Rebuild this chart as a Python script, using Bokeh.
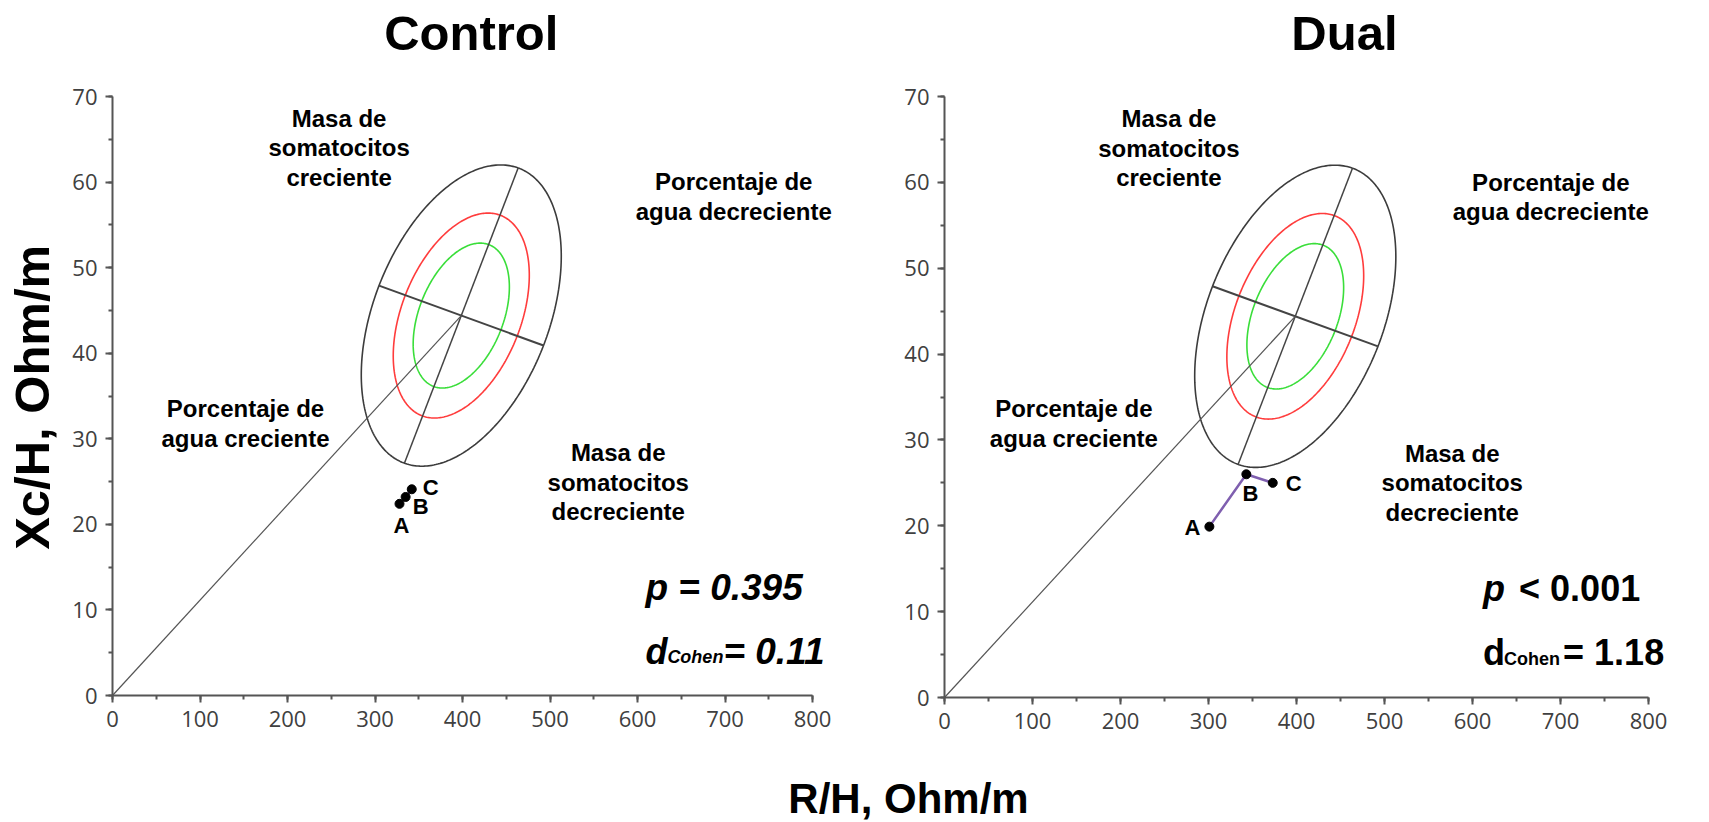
import numpy as np
from bokeh.plotting import figure
from bokeh.models import Range1d, SingleIntervalTicker, Label
from bokeh.layouts import column, row
from bokeh.embed import file_html
from bokeh.resources import INLINE
from bokeh.core.properties import value

# ---------------- data ----------------
point_labels = ["A", "B", "C"]
control_R = [328, 335, 342]
control_Xc = [22.4, 23.2, 24.1]
dual_R = [301, 343, 373]
dual_Xc = [19.9, 26.0, 25.0]

# reference tolerance ellipse (95%) : centre and two conjugate semi-axis vectors
ref_center = [398.6, 44.4]
ref_axis_major = [65.0, 17.25]
ref_axis_minor = [94.0, -3.5]
tolerance_levels = [0.95, 0.75, 0.50]
tolerance_colors = ["#3c3c3c", "#ff3c3c", "#3ade3a"]

region_texts = ["Masa de\nsomatocitos\ncreciente",
                "Porcentaje de\nagua decreciente",
                "Porcentaje de\nagua creciente",
                "Masa de\nsomatocitos\ndecreciente"]
control_region_x = [259, 710, 152, 578]
control_region_y = [64.0, 58.3, 31.8, 24.9]
dual_region_x = [255, 689, 147, 577]
dual_region_y = [64.0, 58.3, 31.9, 25.0]

x_axis_max = 800
y_axis_max = 70
tick_step_x = 100
tick_step_y = 10

x_title = "R/H, Ohm/m"
y_title = "Xc/H, Ohm/m"

FONT = "Liberation Sans"
TICKFONT = "Open Sans"


def ellipse_points(level):
    k = np.sqrt(-2 * np.log(1 - level)) / np.sqrt(-2 * np.log(0.05))
    t = np.linspace(0, 2 * np.pi, 300)
    x = ref_center[0] + k * (np.cos(t) * ref_axis_major[0] + np.sin(t) * ref_axis_minor[0])
    y = ref_center[1] + k * (np.cos(t) * ref_axis_major[1] + np.sin(t) * ref_axis_minor[1])
    return x, y


def make_panel(title, title_x, R, Xc, label_offsets, region_x, region_y,
               fw, fh, x_end, y_end, bl, br, bb, stats):
    p = figure(frame_width=fw, frame_height=fh, min_border_left=bl, min_border_right=br,
               min_border_top=0, min_border_bottom=bb,
               x_range=Range1d(0, x_end), y_range=Range1d(0, y_end),
               output_backend="svg", toolbar_location=None, tools="")
    p.outline_line_color = None
    p.grid.visible = False
    p.background_fill_color = "white"
    p.border_fill_color = "white"

    p.xaxis.ticker = SingleIntervalTicker(interval=tick_step_x, num_minor_ticks=2)
    p.yaxis.ticker = SingleIntervalTicker(interval=tick_step_y, num_minor_ticks=2)
    p.xaxis.bounds = (0, x_axis_max)
    p.yaxis.bounds = (0, y_axis_max)
    for ax in (p.xaxis, p.yaxis):
        ax.axis_line_color = "#555555"
        ax.axis_line_width = 2
        ax.major_tick_line_color = "#555555"
        ax.minor_tick_line_color = "#555555"
        ax.major_tick_line_width = 2
        ax.minor_tick_line_width = 2
        ax.major_tick_in = 0
        ax.major_tick_out = 7
        ax.minor_tick_in = 0
        ax.minor_tick_out = 4
        ax.major_label_text_font = TICKFONT
        ax.major_label_text_font_size = "22px"
        ax.major_label_text_color = "#404040"
    p.xaxis.major_label_standoff = 8
    p.yaxis.major_label_standoff = 8

    # ellipses
    for lev, col in zip(tolerance_levels, tolerance_colors):
        ex, ey = ellipse_points(lev)
        p.line(ex, ey, line_color=col, line_width=1.6)
    cx, cy = ref_center
    p.line([cx - ref_axis_major[0], cx + ref_axis_major[0]],
           [cy - ref_axis_major[1], cy + ref_axis_major[1]], line_color="#444444", line_width=1.5)
    p.line([cx - ref_axis_minor[0], cx + ref_axis_minor[0]],
           [cy - ref_axis_minor[1], cy + ref_axis_minor[1]], line_color="#444444", line_width=2)
    p.line([0, cx], [0, cy], line_color="#555555", line_width=1.2)

    # trajectory
    p.line(R, Xc, line_color="#7f5faf", line_width=2.5)
    p.scatter(R, Xc, size=9, fill_color="black", line_color="black")
    for lab, x, y, (dx, dy) in zip(point_labels, R, Xc, label_offsets):
        p.add_layout(Label(x=x, y=y, x_offset=dx, y_offset=dy, text=lab,
                           text_align="center", text_baseline="middle",
                           text_font=FONT, text_font_style="bold",
                           text_font_size="22px", text_color="black"))

    p.text(x=region_x, y=region_y, text=region_texts, text_align="center",
           text_baseline="middle", text_font=value(FONT), text_font_style="bold",
           text_font_size="24px", text_color="black", text_line_height=1.09)

    # title
    p.text(x=[title_x], y=[77.4], text=[title], text_align="center",
           text_baseline="middle", text_font=value(FONT),
           text_font_style="bold", text_font_size="49px", text_color="black")

    # statistics
    for (txt, x, y, dx, dy, size, style) in stats:
        p.add_layout(Label(x=x, y=y, x_offset=dx, y_offset=dy, text=txt,
                           text_align="left", text_baseline="alphabetic",
                           text_font=FONT, text_font_style=style,
                           text_font_size=size, text_color="black"))
    return p


ctrl_stats = [
    ("p = 0.395", 609, 12.6, 0, 0, "37px", "bold italic"),
    ("d", 609, 5.2, 0, 0, "36px", "bold italic"),
    ("Cohen", 609, 5.2, 22, -6, "18px", "bold italic"),
    ("= 0.11", 609, 5.2, 78, 0, "37px", "bold italic"),
]
dual_stats = [
    ("p", 612, 12.7, 0, 0, "36px", "bold italic"),
    ("< 0.001", 612, 12.7, 36, 0, "36px", "bold"),
    ("d", 612, 5.2, 0, 0, "36px", "bold"),
    ("Cohen", 612, 5.2, 21, -6, "18px", "bold"),
    ("= 1.18", 612, 5.2, 80, 0, "36px", "bold"),
]

# left strip holding the shared y-axis title
p0 = figure(width=60, height=760, x_range=Range1d(0, 60), y_range=Range1d(0, 760),
            x_axis_type=None, y_axis_type=None, min_border=0,
            output_backend="svg", toolbar_location=None, tools="")
p0.outline_line_color = None
p0.grid.visible = False
p0.text(x=[31], y=[326], text=[y_title], angle=np.pi / 2, text_align="center",
        text_baseline="middle", text_font=value(FONT), text_font_style="bold",
        text_font_size="49px", text_color="black")

p1 = make_panel("Control", 410, control_R, control_Xc,
                [(2, -22), (15, -10), (19, 2)], control_region_x, control_region_y,
                735, 695, 840, 695 * 70 / 599, 52, 0, 65, ctrl_stats)
p2 = make_panel("Dual", 454.5, dual_R, dual_Xc,
                [(-17, -1), (4, -19), (21, -1)], dual_region_x, dual_region_y,
                739, 697, 739 / 0.88, 697 * 70 / 601, 97, 26, 63, dual_stats)

p3 = figure(width=1709, height=62, x_range=Range1d(0, 1709), y_range=Range1d(0, 62),
            x_axis_type=None, y_axis_type=None, min_border=0,
            output_backend="svg", toolbar_location=None, tools="")
p3.outline_line_color = None
p3.grid.visible = False
p3.text(x=[908], y=[24], text=[x_title], text_align="center",
        text_baseline="middle", text_font=value(FONT), text_font_style="bold",
        text_font_size="42px", text_color="black")

layout = column(row(p0, p1, p2), p3)
open("out.html", "w").write(file_html(layout, INLINE))
